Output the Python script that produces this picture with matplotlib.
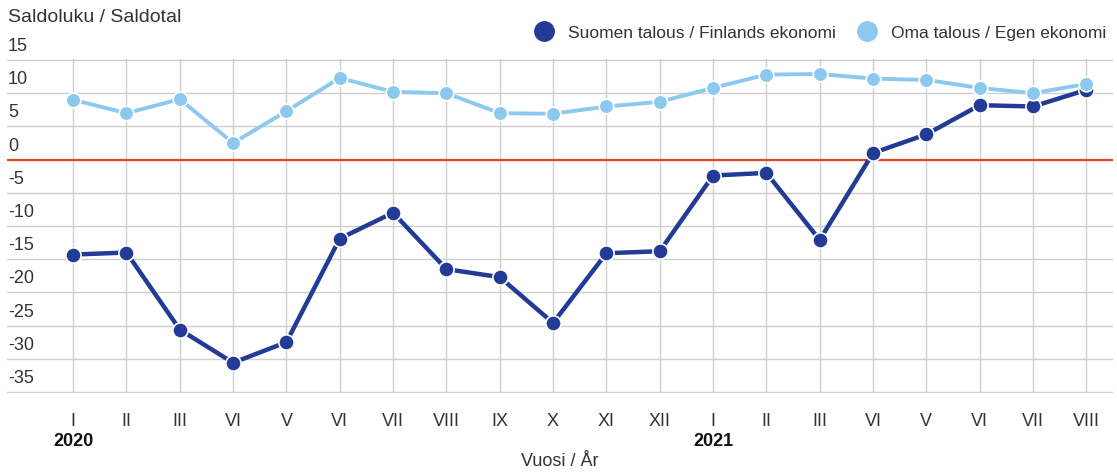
import matplotlib
matplotlib.use("Agg")
import matplotlib.pyplot as plt
import matplotlib.transforms as mtransforms
from matplotlib.lines import Line2D

plt.rcParams['font.family'] = ['Liberation Sans', 'DejaVu Sans']

# month labels, jan 2020 .. aug 2021 (as printed in the source)
months = ['I', 'II', 'III', 'VI', 'V', 'VI', 'VII', 'VIII', 'IX', 'X', 'XI', 'XII',
          'I', 'II', 'III', 'VI', 'V', 'VI', 'VII', 'VIII']
years = ['2020', '2021']
year_start = [0, 12]

suomen_talous = [-14.3, -14.0, -25.6, -30.6, -27.5, -11.9, -8.0, -16.5, -17.7, -24.6,
                 -14.1, -13.8, -2.4, -2.0, -12.1, 1.0, 3.8, 8.2, 8.0, 10.5]
oma_talous = [9.0, 7.0, 9.1, 2.5, 7.3, 12.3, 10.2, 10.0, 7.0, 6.9,
              8.0, 8.7, 10.8, 12.8, 12.9, 12.2, 12.0, 10.8, 10.0, 11.4]
y_ticks = [15, 10, 5, 0, -5, -10, -15, -20, -25, -30, -35]

dark = '#233b96'
light = '#8dc9ef'
grid_c = '#cfcfcf'

fig = plt.figure(figsize=(11.17, 4.72), dpi=100)
ax = fig.add_axes([7 / 1117, 1 - 393.3 / 472, 1106 / 1117, 334.6 / 472])

x = list(range(len(months)))
ax.set_xlim(-1.24, 19.5)
ax.set_ylim(-35.2, 15.2)

# grid
ax.set_xticks(x)
ax.set_xticklabels(months, fontsize=13, color='#333333')
ax.set_yticks(y_ticks)
ax.set_yticklabels([])
ax.tick_params(axis='both', length=0)
ax.tick_params(axis='x', pad=14)
ax.grid(True, color=grid_c, lw=1.0, zorder=0)
for s in ax.spines.values():
    s.set_visible(False)

ax.axhline(0, color='#e8432a', lw=1.6, zorder=2)

ax.plot(x, suomen_talous, color=dark, lw=3.2, marker='o', ms=11,
        mfc=dark, mec='white', mew=1.2, zorder=3)
ax.plot(x, oma_talous, color=light, lw=2.8, marker='o', ms=10.5,
        mfc=light, mec='white', mew=1.2, zorder=4)

# y labels sit above their gridlines
ytrans = mtransforms.blended_transform_factory(ax.transAxes, ax.transData)
off = mtransforms.ScaledTranslation(1 / 100, 5 / 100, fig.dpi_scale_trans)
for v in y_ticks:
    ax.text(0, v, str(v), transform=ytrans + off, ha='left', va='bottom',
            fontsize=13, color='#333333')

# year labels under first month of each year
xtrans = mtransforms.blended_transform_factory(ax.transData, ax.transAxes)
yoff = mtransforms.ScaledTranslation(0, -40 / 100, fig.dpi_scale_trans)
for yr, i in zip(years, year_start):
    ax.text(i, 0, yr, transform=xtrans + yoff, ha='center', va='top', fontsize=13,
            fontweight='bold', color='#111111')

ax.set_xlabel('Vuosi / År', fontsize=13, color='#333333', labelpad=17)

fig.text(8 / 1117, 1 - 18 / 472, 'Saldoluku / Saldotal', fontsize=14,
         color='#333333', va='center', ha='left')

handles = [Line2D([], [], ls='', marker='o', ms=14, color=dark),
           Line2D([], [], ls='', marker='o', ms=14, color=light)]
fig.legend(handles, ['Suomen talous / Finlands ekonomi', 'Oma talous / Egen ekonomi'],
           loc='center right', bbox_to_anchor=(1.0, 1 - 33 / 472), ncol=2,
           frameon=False, fontsize=12.5, handletextpad=0.4, columnspacing=0.8,
           borderaxespad=0.2, labelcolor='#333333')

fig.savefig('out.png', dpi=100)
